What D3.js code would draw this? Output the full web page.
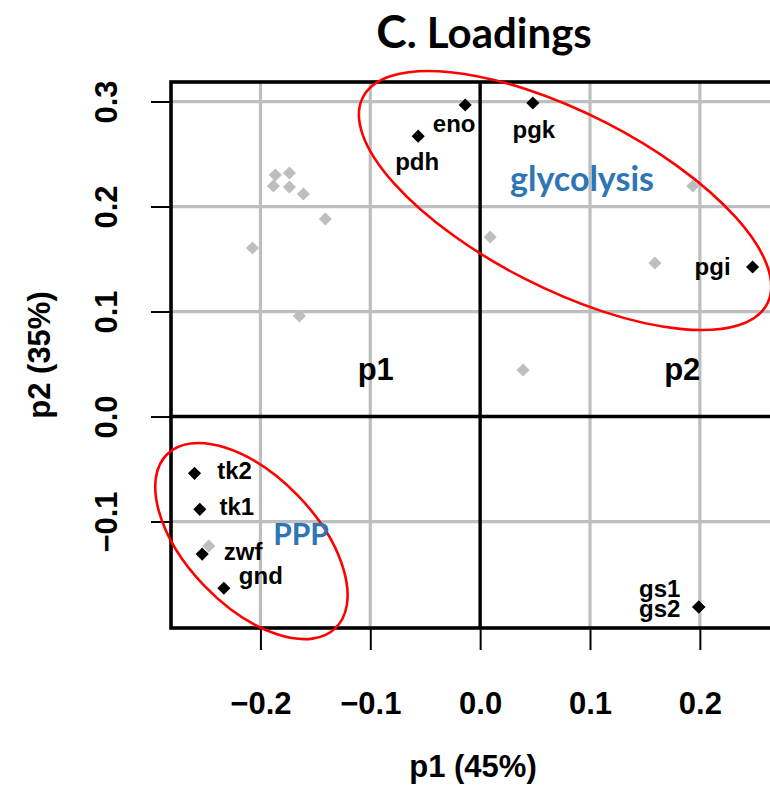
<!DOCTYPE html>
<html><head><meta charset="utf-8">
<script src="https://cdn.jsdelivr.net/npm/d3@7"></script>
<style>body{margin:0;background:#fff}svg{display:block}</style>
</head><body>
<svg id="chart" width="770" height="786"></svg>
<script>
// ---- data ----
const loadingNames = ["eno","pdh","pgk","pgi","gs1","gs2","tk2","tk1","zwf","gnd"];
const loadingP1 = [-0.0136,-0.0564,0.048,0.248,0.199,0.199,-0.260,-0.2552,-0.2530,-0.2333];
const loadingP2 = [0.2967,0.267,0.2986,0.1424,-0.1814,-0.1814,-0.0541,-0.0884,-0.1310,-0.1636];
const otherP1 = [-0.1864,-0.1736,-0.1882,-0.1736,-0.1609,-0.1409,-0.2073,-0.1645,0.1936,0.0091,0.1591,0.0391,-0.2470];
const otherP2 = [0.2300,0.2319,0.2195,0.2186,0.2119,0.1881,0.1605,0.0957,0.2195,0.1710,0.1462,0.0443,-0.1233];
const xTicks = [-0.2,-0.1,0.0,0.1,0.2];
const yTicks = [-0.1,0.0,0.1,0.2,0.3];
const quadrantLabels = ["p1","p2"];
const quadrantP1 = [-0.095,0.184];
const groupNames = ["glycolysis","PPP"];
const groupP1 = [0.0773,-0.2082];
const groupP2 = [0.2057,-0.1186];

// ---- layout (pixels) ----
const labelOffset = {eno:[-11,27],pdh:[-1,34],pgk:[1,35],pgi:[-40,8],gs1:[-39,-10],gs2:[-39,10],tk2:[40,6],tk1:[37,6],zwf:[41,6],gnd:[37,-4]};
const groupLabelPos = {glycolysis:[582,191],PPP:[301,545]};
const ellipseShape = {glycolysis:{rx:227,ry:88,rot:27},PPP:{rx:121,ry:65,rot:46}};

const svg = d3.select("#chart");
const L = 171, R = 775, T = 82, B = 628;
const x = d3.scaleLinear().domain([-0.2814,0.2684]).range([L,R]);
const y = d3.scaleLinear().domain([-0.2014,0.3186]).range([B,T]);
const grey = "#bebebe";
const boldSans = "'Liberation Sans', Arial, sans-serif";

// gridlines
svg.append("g").selectAll("line").data(xTicks.filter(d=>d!==0)).join("line")
  .attr("x1",d=>x(d)).attr("x2",d=>x(d)).attr("y1",T).attr("y2",B)
  .attr("stroke",grey).attr("stroke-width",3.2);
svg.append("g").selectAll("line").data(yTicks.filter(d=>d!==0)).join("line")
  .attr("y1",d=>y(d)).attr("y2",d=>y(d)).attr("x1",L).attr("x2",R)
  .attr("stroke",grey).attr("stroke-width",3.2);
// zero lines
svg.append("line").attr("x1",x(0)).attr("x2",x(0)).attr("y1",T).attr("y2",B).attr("stroke","#000").attr("stroke-width",3.4);
svg.append("line").attr("y1",y(0)).attr("y2",y(0)).attr("x1",L).attr("x2",R).attr("stroke","#000").attr("stroke-width",3.4);

// axes
const fmt = d=> d<0 ? "\u2212"+d3.format(".1f")(-d) : d3.format(".1f")(d);
const xAxis = svg.append("g").attr("transform",`translate(0,${B})`)
  .call(d3.axisBottom(x).tickValues(xTicks).tickFormat(fmt).tickSize(22).tickPadding(40));
const yAxis = svg.append("g").attr("transform",`translate(${L},0)`)
  .call(d3.axisLeft(y).tickValues(yTicks).tickFormat(fmt).tickSize(20).tickPadding(12));
[xAxis,yAxis].forEach(a=>{
  a.select(".domain").remove();
  a.selectAll(".tick line").attr("stroke","#000").attr("stroke-width",2);
  a.selectAll(".tick text").attr("fill","#000").attr("font-family",boldSans).attr("font-weight","bold").attr("font-size",31);
});
xAxis.selectAll(".tick text").attr("dy",0).attr("y",86);
yAxis.selectAll(".tick text")
  .attr("x",null).attr("y",null).attr("dy",0)
  .attr("transform","translate(-54,0) rotate(-90)").attr("text-anchor","middle");

// frame
svg.append("rect").attr("x",L).attr("y",T).attr("width",R-L).attr("height",B-T)
  .attr("fill","none").attr("stroke","#000").attr("stroke-width",3.6);

// axis titles
svg.append("text").attr("x",(L+R)/2).attr("y",777).attr("text-anchor","middle")
  .attr("font-family",boldSans).attr("font-weight","bold").attr("font-size",31).text("p1 (45%)");
svg.append("text").attr("transform",`translate(50,${(T+B)/2}) rotate(-90)`).attr("text-anchor","middle")
  .attr("font-family",boldSans).attr("font-weight","bold").attr("font-size",31).text("p2 (35%)");

// title
const title = svg.append("text").attr("x",484).attr("y",48).attr("text-anchor","middle")
  .attr("font-family","Lato, 'Open Sans', sans-serif").attr("font-weight","bold");
title.append("tspan").attr("font-size",46).text("C");
title.append("tspan").attr("font-size",42).text(". Loadings");

// quadrant labels
svg.append("g").selectAll("text").data(quadrantLabels).join("text")
  .attr("x",(d,i)=>x(quadrantP1[i])).attr("y",380).attr("text-anchor","middle")
  .attr("font-family",boldSans).attr("font-weight","bold").attr("font-size",31).text(d=>d);

// points
const diamond = d3.symbol(d3.symbolSquare, 86)();
svg.append("g").selectAll("path").data(otherP1.map((v,i)=>[v,otherP2[i]])).join("path")
  .attr("d",diamond).attr("fill",grey)
  .attr("transform",d=>`translate(${x(d[0])},${y(d[1])}) rotate(45)`);
svg.append("g").selectAll("path").data(loadingNames.map((n,i)=>[loadingP1[i],loadingP2[i]])).join("path")
  .attr("d",diamond).attr("fill","#000")
  .attr("transform",d=>`translate(${x(d[0])},${y(d[1])}) rotate(45)`);
svg.append("g").selectAll("text").data(loadingNames).join("text")
  .attr("x",(d,i)=>x(loadingP1[i])+labelOffset[d][0])
  .attr("y",(d,i)=>y(loadingP2[i])+labelOffset[d][1])
  .attr("text-anchor","middle").attr("font-family",boldSans).attr("font-weight","bold")
  .attr("font-size",24).attr("fill","#000").text(d=>d);

// group ellipses
svg.append("g").selectAll("ellipse").data(groupNames).join("ellipse")
  .attr("cx",0).attr("cy",0)
  .attr("rx",d=>ellipseShape[d].rx).attr("ry",d=>ellipseShape[d].ry)
  .attr("transform",(d,i)=>`translate(${x(groupP1[i])},${y(groupP2[i])}) rotate(${ellipseShape[d].rot})`)
  .attr("fill","none").attr("stroke","#ff0000").attr("stroke-width",2.6);
svg.append("g").selectAll("text").data(groupNames).join("text")
  .attr("x",d=>groupLabelPos[d][0]).attr("y",d=>groupLabelPos[d][1]).attr("text-anchor","middle")
  .attr("font-family","Lato, 'Open Sans', sans-serif").attr("font-weight","bold")
  .attr("font-size",d=>d==="PPP"?30:34).attr("fill","#2e75b6").text(d=>d);
</script>
</body></html>
